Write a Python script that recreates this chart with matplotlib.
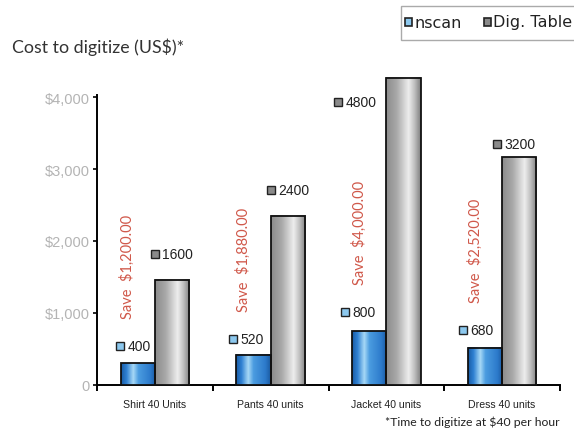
import numpy as np
import matplotlib
matplotlib.use("Agg")
import matplotlib.pyplot as plt
from matplotlib.colors import LinearSegmentedColormap
from matplotlib.transforms import offset_copy
from matplotlib.patches import Rectangle

# ---------------- data ----------------
categories = ["Shirt 40 Units", "Pants 40 units", "Jacket 40 units", "Dress 40 units"]
nscan_bar = [300, 420, 750, 515]          # bar heights as drawn
table_bar = [1460, 2350, 4265, 3165]
nscan_labels = ["400", "520", "800", "680"]
table_labels = ["1600", "2400", "4800", "3200"]
savings = ["Save  $1,200.00", "Save  $1,880.00", "Save  $4,000.00", "Save  $2,520.00"]
yticks = [0, 1000, 2000, 3000, 4000]
yticklabels = ["0", "$1,000", "$2,000", "$3,000", "$4,000"]
series_names = ["nscan", "Dig. Table"]

# ---------------- layout (pixels) ----------------
nscan_lab_dx = [-1, -3.5, -7, -5]
nscan_lab_dy = [17, 16, 19, 18]
table_lab_dx = [0, 0, -48, -5]
table_lab_dy = [26, 26, -24, 13]

W, H = 574, 431
fig = plt.figure(figsize=(W / 100, H / 100), dpi=100)
ax = fig.add_axes([97 / W, 1 - 386 / H, (560 - 97) / W, (386 - 98) / H])

x = np.arange(len(categories))
bw = 0.295
blue_cmap = LinearSegmentedColormap.from_list(
    "b", [(0, "#1a5ca6"), (0.15, "#2e80d2"), (0.35, "#a6d8f6"),
          (0.5, "#4b9ce0"), (0.85, "#2c7acb"), (1, "#1a5aa0")])
gray_cmap = LinearSegmentedColormap.from_list(
    "g", [(0, "#8c8c8c"), (0.3, "#a8a8a8"), (0.65, "#ededed"),
          (0.82, "#c0c0c0"), (1, "#808080")])

b1 = ax.bar(x - bw / 2, nscan_bar, bw, facecolor="none", edgecolor="#111",
            linewidth=1.3, zorder=4, clip_on=False)
b2 = ax.bar(x + bw / 2, table_bar, bw, facecolor="none", edgecolor="#111",
            linewidth=1.3, zorder=4, clip_on=False)

grad = np.linspace(0, 1, 64).reshape(1, -1)
for bars, cmap in ((b1, blue_cmap), (b2, gray_cmap)):
    for p in bars:
        x0, w, h = p.get_x(), p.get_width(), p.get_height()
        im = ax.imshow(grad, cmap=cmap, extent=[x0, x0 + w, 0, h],
                       aspect="auto", zorder=3, clip_on=False)
        im.set_clip_path(p)

ax.set_xlim(-0.5, len(categories) - 0.5)
ax.set_ylim(0, 4000)

for s in ("top", "right"):
    ax.spines[s].set_visible(False)
ax.spines["left"].set_linewidth(1.4)
ax.spines["bottom"].set_linewidth(1.4)
ax.spines["left"].set_bounds(0, 4030)

ax.set_yticks(yticks)
ax.set_yticklabels(yticklabels, fontsize=10.5, color="#b4b4b4", family="Liberation Sans")
ax.tick_params(axis="y", length=3, width=1.2, direction="out", pad=2)
ax.set_xticks(np.arange(-0.5, len(categories)), minor=False)
ax.set_xticklabels([])
ax.tick_params(axis="x", length=4, width=1.4, direction="out")
for xi, c in zip(x, categories):
    ax.text(xi, -0.066, c, transform=ax.get_xaxis_transform(), ha="center",
            va="center", fontsize=7.6, color="#222", family="Liberation Sans")

# value labels with square markers
def put_label(px, py, dx, dy, txt, face):
    tr = offset_copy(ax.transData, fig=fig, x=dx, y=dy, units="dots")
    ax.plot([px], [py], marker="s", ms=5.5, mfc=face, mec="#222", mew=1.0,
            transform=tr, zorder=6, clip_on=False)
    tr2 = offset_copy(ax.transData, fig=fig, x=dx + 7.5, y=dy, units="dots")
    ax.text(px, py, txt, transform=tr2, ha="left", va="center", fontsize=10,
            color="#222", family="Liberation Sans", zorder=6, clip_on=False)

for i, p in enumerate(b1):
    put_label(p.get_x(), p.get_height(), nscan_lab_dx[i], nscan_lab_dy[i],
              nscan_labels[i], "#8cc8ee")
    tr = offset_copy(ax.transData, fig=fig, x=7, y=nscan_lab_dy[i] + 28, units="dots")
    ax.text(p.get_x(), p.get_height(), savings[i], transform=tr, rotation=90,
            ha="center", va="bottom", fontsize=10.5, color="#d0584a",
            family="Lato", zorder=6)
for i, p in enumerate(b2):
    put_label(p.get_x(), p.get_height(), table_lab_dx[i], table_lab_dy[i],
              table_labels[i], "#8a8a8a")

# title & footnote
fig.text(12 / W, 1 - 47 / H, "Cost to digitize (US$)*", fontsize=12.8,
         color="#333", family="Lato", ha="left", va="center")
fig.text(560 / W, 1 - 422 / H, "*Time to digitize at $40 per hour", fontsize=8.8,
         color="#222", family="Lato", ha="right", va="center")

# legend box
fig.patches.append(Rectangle((401 / W, 1 - 41 / H), 180 / W, 34 / H,
                             transform=fig.transFigure, facecolor="white",
                             edgecolor="#aaaaaa", linewidth=1.0))
for sx, face, name in ((408, "#8cc8ee", series_names[0]), (487, "#8a8a8a", series_names[1])):
    fig.patches.append(Rectangle(((sx - 3.5) / W, 1 - 27 / H), 7.5 / W, 8 / H,
                                 transform=fig.transFigure, facecolor=face,
                                 edgecolor="#222", linewidth=1.2))
    fig.text((sx + 6) / W, 1 - 23 / H, name, fontsize=11.5, color="#222",
             family="DejaVu Sans", ha="left", va="center")

fig.savefig("out.png", dpi=100)
